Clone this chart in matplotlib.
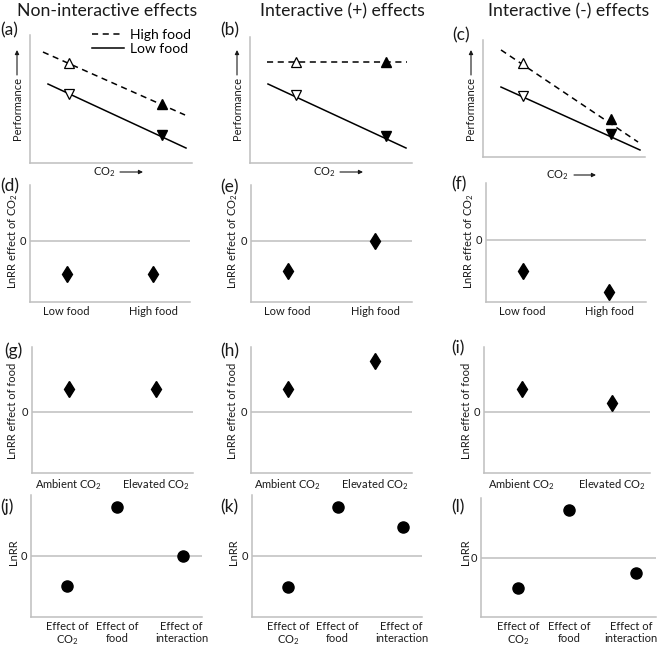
import matplotlib
matplotlib.use('Agg')
import matplotlib.pyplot as plt

W, H = 658, 648

# top row: performance against CO2, both axes run 0..10
col_titles = ['Non-interactive effects', 'Interactive (+) effects', 'Interactive (-) effects']
co2_x = [[2.41, 8.15], [2.84, 8.40], [2.47, 7.90]]
high_food = [[7.81, 4.61], [8.02, 8.02], [8.03, 3.25]]
low_food = [[5.39, 2.19], [5.40, 2.14], [5.21, 1.97]]
high_line_x = [[0.80, 9.57], [1.05, 9.69], [1.11, 9.57]]
high_line_y = [[8.67, 3.75], [8.02, 8.02], [9.15, 1.28]]
low_line_x = [[1.11, 9.63], [1.11, 9.63], [1.11, 9.69]]
low_line_y = [[6.17, 1.17], [6.27, 1.19], [5.98, 0.60]]

# rows 2-4: LnRR effects
food_levels = ['Low food', 'High food']
co2_effect = [[-0.59, -0.59], [-0.54, 0.0], [-0.54, -0.91]]
co2_levels = ['Ambient CO$_2$', 'Elevated CO$_2$']
food_effect = [[0.35, 0.35], [0.35, 0.78], [0.35, 0.14]]
effect_names = ['Effect of\nCO$_2$', 'Effect of\nfood', 'Effect of\ninteraction']
lnrr = [[-0.49, 0.80, 0.0], [-0.51, 0.80, 0.48], [-0.51, 0.80, -0.26]]

plt.rcParams['font.family'] = ['Lato', 'DejaVu Sans']
plt.rcParams['mathtext.fontset'] = 'custom'
plt.rcParams['mathtext.rm'] = 'Lato'
plt.rcParams['mathtext.it'] = 'Lato:italic'
plt.rcParams['mathtext.bf'] = 'Lato:bold'

TXT = '#1a1a1a'
GREY = '#bfbfbf'

fig = plt.figure(figsize=(W / 100, H / 100), dpi=100)


def px_axes(l, t, r, b):
    ax = fig.add_axes([l / W, 1 - b / H, (r - l) / W, (b - t) / H])
    for s in ['top', 'right']:
        ax.spines[s].set_visible(False)
    for s in ['left', 'bottom']:
        ax.spines[s].set_color(GREY)
        ax.spines[s].set_linewidth(1.1)
    ax.tick_params(length=0, colors=TXT, labelsize=8)
    return ax


def px_text(x, y, s, **kw):
    kw.setdefault('color', TXT)
    fig.text(x / W, 1 - y / H, s, **kw)


def px_arrow(x0, y0, x1, y1):
    fig.axes[0].annotate('', xy=(x1, H - y1), xytext=(x0, H - y0),
                         xycoords='figure pixels', textcoords='figure pixels',
                         arrowprops=dict(arrowstyle='-|>', lw=0.8, color=TXT,
                                         mutation_scale=6, shrinkA=0, shrinkB=0))


# ---- row 1: performance panels
top_boxes = [(30, 35, 192, 163), (250, 37, 412, 163), (483, 40, 645, 157)]
title_x = [17, 260, 488]
perf_lab_x = [17, 237, 471]
co2_lab = [(93, 172, 120, 143), (313, 172, 340, 363), (546, 175, 574, 596)]
for i, box in enumerate(top_boxes):
    ax = px_axes(*box)
    ax.set_xlim(0, 10)
    ax.set_ylim(0, 10)
    ax.set_xticks([])
    ax.set_yticks([])
    ax.plot(high_line_x[i], high_line_y[i], color='black', lw=1.1, dashes=(4, 3),
            label='High food')
    ax.plot(low_line_x[i], low_line_y[i], color='black', lw=1.1, label='Low food')
    ax.plot(co2_x[i][0], high_food[i][0], '^', ms=7.5, mfc='white', mec='black', mew=0.9)
    ax.plot(co2_x[i][0], low_food[i][0], 'v', ms=7.5, mfc='white', mec='black', mew=0.9)
    ax.plot(co2_x[i][1], high_food[i][1], '^', ms=7.5, color='black')
    ax.plot(co2_x[i][1], low_food[i][1], 'v', ms=7.5, color='black')
    if i == 0:
        ax.legend(loc='upper left', bbox_to_anchor=(92 / W, 1 - 29 / H),
                  bbox_transform=fig.transFigure, frameon=False, fontsize=10,
                  borderpad=0, borderaxespad=0, handlelength=2.3,
                  handletextpad=0.4, labelspacing=0.15)
    px_text(title_x[i], 11, col_titles[i], fontsize=12.7, ha='left', va='center')
    px_text(perf_lab_x[i], 109, 'Performance', fontsize=8, rotation=90,
            ha='center', va='center')
    tx, ty, ax0, ax1 = co2_lab[i]
    px_text(tx, ty, 'CO$_2$', fontsize=8, ha='left', va='center')

for i in range(3):
    px_arrow(perf_lab_x[i], 75, perf_lab_x[i], 50)
    tx, ty, ax0, ax1 = co2_lab[i]
    px_arrow(ax0, ty, ax1, ty)

panel_labels = [
    ('(a)', 0, 30), ('(b)', 220, 30), ('(c)', 452, 35),
    ('(d)', 0, 186), ('(e)', 220, 187), ('(f)', 451, 184),
    ('(g)', 4, 351), ('(h)', 220, 351), ('(i)', 451, 348),
    ('(j)', 0, 507), ('(k)', 220, 507), ('(l)', 451, 507),
]
for s, x, y in panel_labels:
    px_text(x, y, s, fontsize=12.5, ha='left', va='center')


def effect_panel(box, xpos, vals, labels, xlim, ylim, marker, ms, label_pos=None):
    ax = px_axes(*box)
    ax.axhline(0, color=GREY, lw=1.1, zorder=1)
    ax.plot(xpos, vals, linestyle='none', marker=marker, ms=ms, color='black', zorder=3)
    ax.set_xlim(*xlim)
    ax.set_ylim(*ylim)
    ax.set_yticks([0])
    ax.set_yticklabels(['0'])
    ax.set_xticks(xpos if label_pos is None else label_pos)
    ax.set_xticklabels(labels, linespacing=1.1)
    ax.tick_params(axis='y', pad=3)
    ax.tick_params(axis='x', pad=3)
    return ax


# ---- row 2: effect of CO2
row2_boxes = [(30, 185, 190, 302), (251, 185, 412, 302), (486, 183, 646, 302)]
row2_lab_x = [13, 233, 469]
for i, box in enumerate(row2_boxes):
    effect_panel(box, [0, 1], co2_effect[i], food_levels, (-0.42, 1.42),
                 (-1.09, 1.0), 'd', 8.6)
    px_text(row2_lab_x[i], 241, 'LnRR effect of CO$_2$', fontsize=8, rotation=90,
            ha='center', va='center')

# ---- row 3: effect of food
row3_boxes = [(32, 347, 193, 473), (251, 347, 412, 473), (484, 347, 650, 473)]
row3_lab_x = [13, 233, 466]
for i, box in enumerate(row3_boxes):
    effect_panel(box, [0, 1], food_effect[i], co2_levels, (-0.42, 1.42),
                 (-0.94, 1.0), 'd', 8.6)
    px_text(row3_lab_x[i], 411, 'LnRR effect of food', fontsize=8, rotation=90,
            ha='center', va='center')

# ---- row 4: main effects and interaction
row4_boxes = [(31, 495, 202, 617), (252, 495, 422, 617), (481, 498, 656, 617)]
row4_lab_x = [13, 233, 466]
row4_tick_pos = [[0, 0.76, 1.74], [0, 0.76, 1.74], [0, 0.76, 1.68]]
for i, box in enumerate(row4_boxes):
    effect_panel(box, [0, 0.76, 1.76], lnrr[i], effect_names, (-0.55, 2.05),
                 (-1.0, 1.0), 'o', 8, label_pos=row4_tick_pos[i])
    px_text(row4_lab_x[i], 552, 'LnRR', fontsize=8, rotation=90,
            ha='center', va='center')

fig.savefig('out.png', dpi=100, facecolor='white')
